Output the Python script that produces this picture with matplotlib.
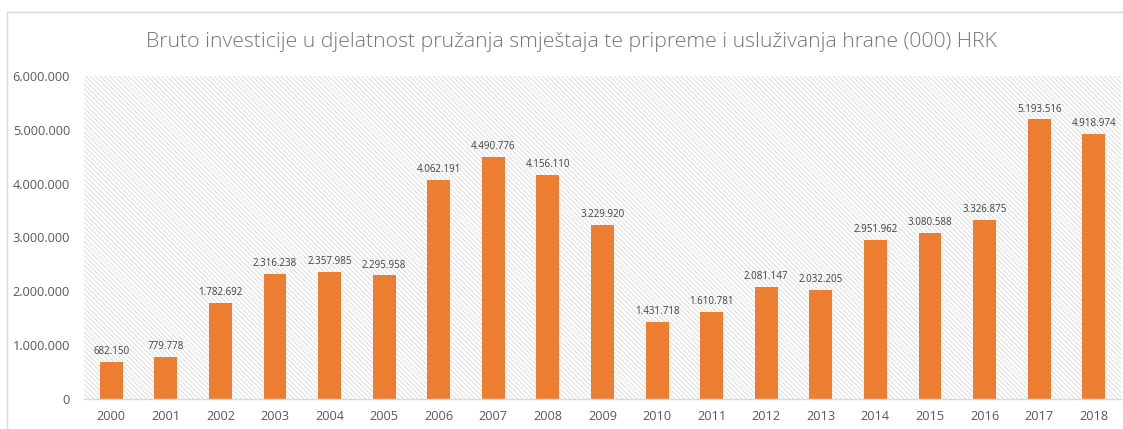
import matplotlib.pyplot as plt
from matplotlib.patches import Rectangle
from matplotlib.ticker import FuncFormatter

# Podaci
godine = ['2000', '2001', '2002', '2003', '2004', '2005', '2006', '2007', '2008', '2009',
          '2010', '2011', '2012', '2013', '2014', '2015', '2016', '2017', '2018']
investicije = [682150, 779778, 1782692, 2316238, 2357985, 2295958, 4062191, 4490776,
               4156110, 3229920, 1431718, 1610781, 2081147, 2032205, 2951962, 3080588,
               3326875, 5193516, 4918974]
naslov = 'Bruto investicije u djelatnost pružanja smještaja te pripreme i usluživanja hrane (000) HRK'


def hr_format(v, pos=None):
    # tocka kao separator tisucica
    return f'{int(v):,}'.replace(',', '.')


plt.rcParams['font.family'] = ['Open Sans', 'DejaVu Sans']
plt.rcParams['hatch.color'] = '#dcdcdc'
plt.rcParams['hatch.linewidth'] = 0.7

fig = plt.figure(figsize=(11.23, 4.29), dpi=100)
# okvir oko grafikona
fig.patches.append(Rectangle((7 / 1123, -0.05), 1.2, (429 - 12) / 429 + 0.05,
                             transform=fig.transFigure, fill=False,
                             edgecolor='#d9d9d9', linewidth=1))

ax = fig.add_axes([84 / 1123, 30 / 429, (1121 - 84) / 1123, (399 - 76) / 429])
ax.add_patch(Rectangle((0, 0), 1, 1, transform=ax.transAxes, facecolor='white',
                       hatch='\\\\\\\\\\\\\\', edgecolor='#dcdcdc', linewidth=0, zorder=0))

x = range(len(godine))
bars = ax.bar(x, investicije, width=0.42, color='#ed7d31', zorder=2)
for xi, v in zip(x, investicije):
    ax.text(xi, v + 90000, hr_format(v), ha='center', va='bottom',
            fontsize=7, color='#404040')

ax.set_xlim(-0.5, len(godine) - 0.5)
ax.set_ylim(0, 6000000)
ax.set_yticks(range(0, 6000001, 1000000))
ax.yaxis.set_major_formatter(FuncFormatter(hr_format))
ax.set_xticks(list(x))
ax.set_xticklabels(godine)
ax.tick_params(axis='both', length=0, labelsize=9.2, labelcolor='#595959')
ax.tick_params(axis='x', pad=8)
ax.tick_params(axis='y', pad=10)

for s in ['top', 'right', 'left']:
    ax.spines[s].set_visible(False)
ax.spines['bottom'].set_color('#d9d9d9')
ax.spines['bottom'].set_linewidth(1)

fig.text(571 / 1123, 1 - 42 / 429, naslov, ha='center', va='center', fontsize=15.3,
         color='#757575', fontweight='light')

fig.savefig('out.png', dpi=100)
